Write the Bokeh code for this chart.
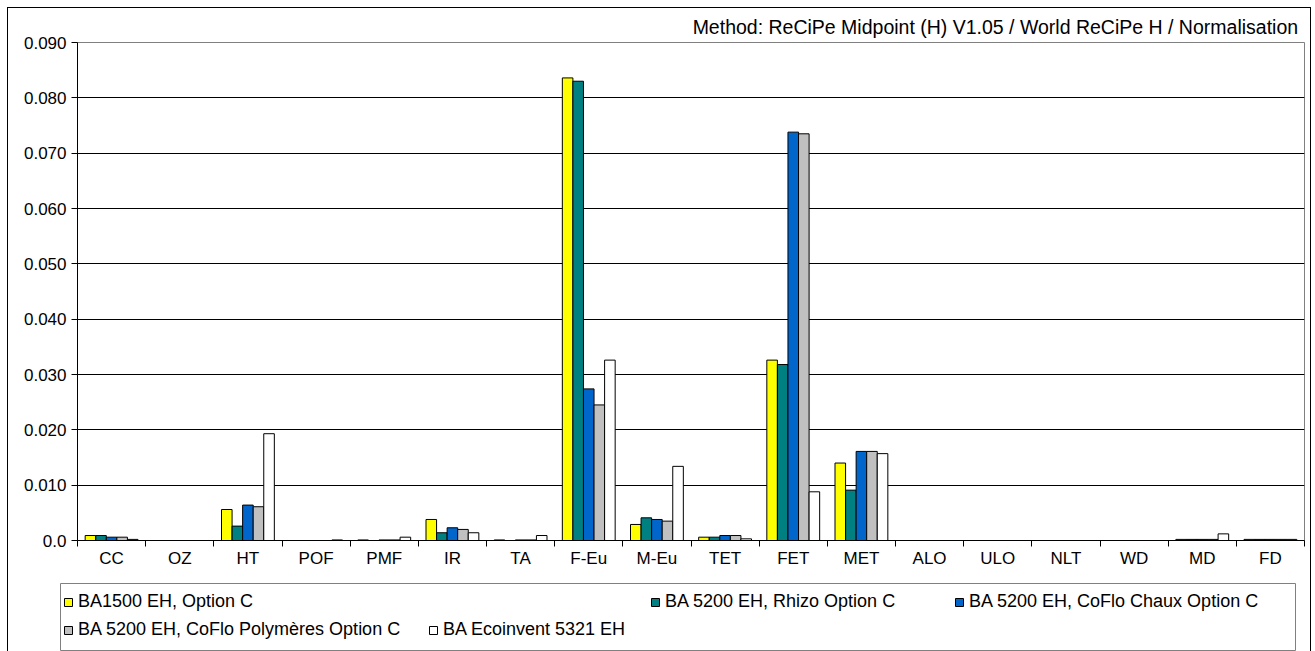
from bokeh.plotting import figure
from bokeh.layouts import column
from bokeh.models import (Range1d, LinearAxis, FixedTicker,
                          NumeralTickFormatter, Legend, LegendItem, Title,
                          ColumnDataSource)
from bokeh.transform import dodge
from bokeh.embed import file_html
from bokeh.resources import INLINE

# ---------------- data ----------------
categories = ["CC", "OZ", "HT", "POF", "PMF", "IR", "TA", "F-Eu", "M-Eu", "TET",
              "FET", "MET", "ALO", "ULO", "NLT", "WD", "MD", "FD"]
ba1500 = [0.0009, 0, 0.0056, 0, 0.0001, 0.0038, 0.0001, 0.0836, 0.0029, 0.0006,
          0.0326, 0.0140, 0, 0, 0, 0, 0.0002, 0.0002]
rhizo = [0.0009, 0, 0.0026, 0, 0, 0.0014, 0, 0.0830, 0.0041, 0.0006,
         0.0318, 0.0091, 0, 0, 0, 0, 0.0002, 0.0002]
chaux = [0.0006, 0, 0.0064, 0, 0.0001, 0.0023, 0.0001, 0.0274, 0.0038, 0.0009,
         0.0738, 0.0161, 0, 0, 0, 0, 0.0002, 0.0002]
polym = [0.0006, 0, 0.0061, 0, 0.0001, 0.0020, 0.0001, 0.0245, 0.0035, 0.0009,
         0.0735, 0.0161, 0, 0, 0, 0, 0.0002, 0.0002]
ecoinv = [0.0002, 0, 0.0193, 0.0001, 0.0006, 0.0014, 0.0009, 0.0326, 0.0134, 0.0003,
          0.0088, 0.0157, 0, 0, 0, 0, 0.0012, 0.0002]
series_labels = ["BA1500 EH, Option C", "BA 5200 EH, Rhizo Option C",
                 "BA 5200 EH, CoFlo Chaux Option C", "BA 5200 EH, CoFlo Polymères Option C",
                 "BA Ecoinvent 5321 EH"]
y_ticks = [0.0, 0.01, 0.02, 0.03, 0.04, 0.05, 0.06, 0.07, 0.08, 0.09]
title_text = "Method: ReCiPe Midpoint (H) V1.05 /  World ReCiPe H / Normalisation"

# ---------------- styling ----------------
colors = ["#FFFF00", "#008080", "#0066CC", "#C0C0C0", "#FFFFFF"]
keys = ["ba1500", "rhizo", "chaux", "polym", "ecoinv"]
FONT = "Liberation Sans"
FS = "17px"

n = len(categories)
centers = [i + 0.5 for i in range(n)]
source = ColumnDataSource(dict(xc=centers, ba1500=ba1500, rhizo=rhizo,
                               chaux=chaux, polym=polym, ecoinv=ecoinv))

W = 1302
p = figure(x_range=Range1d(0, n), y_range=Range1d(0, 0.09),
           width=W, height=570,
           x_axis_location=None, y_axis_location=None,
           output_backend="svg", toolbar_location=None,
           min_border_left=69, min_border_right=6,
           min_border_top=34, min_border_bottom=38)
p.frame_align = False
p.background_fill_color = "white"
p.border_fill_color = "white"
p.outline_line_color = "#808080"
p.outline_line_width = 1

p.title = Title(text=title_text, align="right", text_font=FONT, text_font_size="19.5px",
                text_font_style="normal", text_color="black", offset=1, standoff=9)

# y axis
yaxis = LinearAxis(ticker=FixedTicker(ticks=y_ticks),
                   formatter=NumeralTickFormatter(format="0.000"),
                   major_label_overrides={0: "0.0"},
                   major_label_text_font=FONT, major_label_text_font_size=FS,
                   major_label_text_color="black",
                   major_tick_in=0, major_tick_out=6, minor_tick_line_color=None,
                   axis_line_color="black", major_tick_line_color="black",
                   major_label_standoff=5)
p.add_layout(yaxis, "left")
p.ygrid.ticker = FixedTicker(ticks=y_ticks)
p.ygrid.grid_line_color = "black"
p.ygrid.grid_line_width = 1
p.xgrid.visible = False

# x axis: tick marks between categories, labels at centres
edge_axis = LinearAxis(ticker=FixedTicker(ticks=list(range(n + 1))),
                       major_label_text_font_size="0px", major_label_standoff=0,
                       major_tick_in=0, major_tick_out=6, minor_tick_line_color=None,
                       axis_line_color="black", major_tick_line_color="black")
p.add_layout(edge_axis, "below")
cat_axis = LinearAxis(ticker=FixedTicker(ticks=centers),
                      major_label_overrides={c: lab for c, lab in zip(centers, categories)},
                      major_tick_line_color=None, axis_line_color=None,
                      major_tick_in=0, major_tick_out=0, minor_tick_line_color=None,
                      major_label_text_font=FONT, major_label_text_font_size=FS,
                      major_label_text_color="black", major_label_standoff=2)
p.add_layout(cat_axis, "below")

# bars
bw = 0.155
offsets = [-2 * bw, -bw, 0, bw, 2 * bw]
for key, col, off in zip(keys, colors, offsets):
    p.vbar(x=dodge("xc", off), top=key, width=bw, source=source,
           fill_color=col, line_color="black", line_width=1)

# legend panel (separate figure so nothing is clipped)
pl = figure(x_range=Range1d(100, 101), y_range=Range1d(0, 1), width=W, height=73,
            x_axis_location=None, y_axis_location=None,
            output_backend="svg", toolbar_location=None,
            min_border_left=52, min_border_right=15, min_border_top=5,
            min_border_bottom=0)
pl.frame_align = False
pl.grid.visible = False
pl.outline_line_color = "#808080"
pl.background_fill_color = "white"
pl.border_fill_color = "white"

legend_pos = [(3, 39), (590, 39), (894, 39), (3, 11), (368, 11)]
for lab, key, col, loc in zip(series_labels, keys, colors, legend_pos):
    swatch = pl.vbar(x="xc", top=key, width=bw, source=source, fill_color=col,
                     line_color="black", line_width=1, visible=False)
    lg = Legend(items=[LegendItem(label=lab, renderers=[swatch])], location=loc,
                orientation="horizontal", border_line_color=None,
                background_fill_alpha=0, padding=0, margin=0, spacing=0,
                glyph_width=10, glyph_height=10, label_standoff=5,
                inactive_fill_alpha=0,
                label_height=20, label_text_font=FONT, label_text_font_size="18px",
                label_text_color="black")
    pl.add_layout(lg, "center")

layout = column(p, pl, margin=(7, 0, 0, 7),
                styles={"border-left": "1px solid black", "border-top": "1px solid black",
                        "border-right": "1px solid black"})

open("out.html", "w").write(file_html(layout, INLINE))
